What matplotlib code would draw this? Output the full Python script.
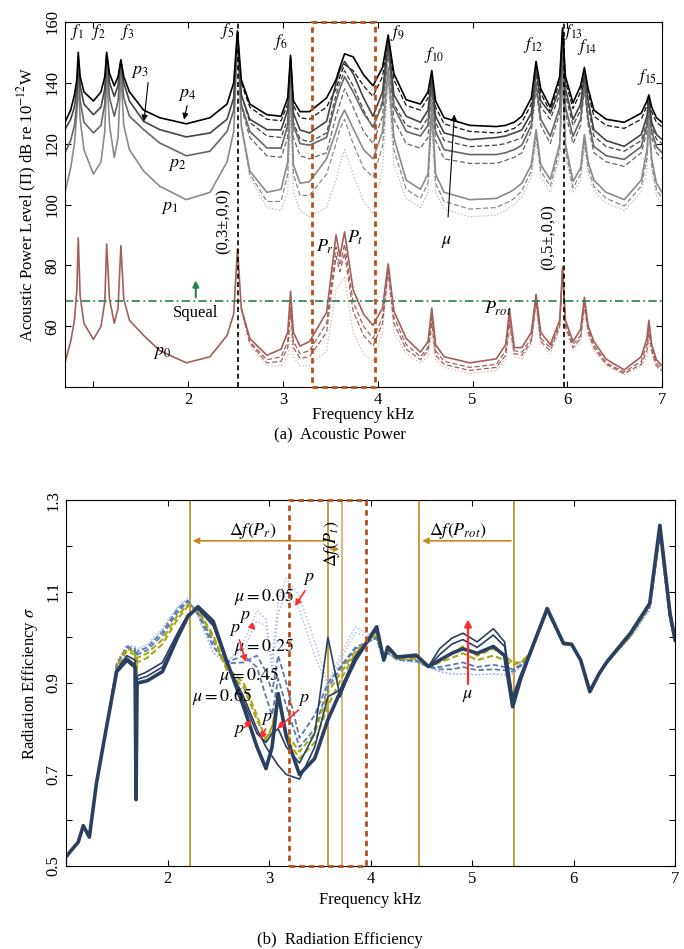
import matplotlib
matplotlib.use('Agg')
import matplotlib.pyplot as plt
from matplotlib.patches import Rectangle

plt.rcParams['font.family'] = 'serif'
plt.rcParams['font.serif'] = ['Liberation Serif', 'DejaVu Serif']
plt.rcParams['mathtext.fontset'] = 'stix'
plt.rcParams['font.size'] = 12

# ---------------- (a) acoustic power, dB ----------------
freq = [0.70, 0.76, 0.80, 0.825, 0.84, 0.86, 0.90, 1.00, 1.08, 1.12,
        1.14, 1.17, 1.22, 1.26, 1.29, 1.32, 1.38, 1.53, 1.70, 1.98,
        2.23, 2.41, 2.48, 2.52, 2.56, 2.65, 2.83, 2.98, 3.05, 3.08,
        3.11, 3.18, 3.28, 3.46, 3.56, 3.60, 3.65, 3.74, 3.85, 3.95,
        4.05, 4.11, 4.17, 4.30, 4.45, 4.53, 4.57, 4.61, 4.70, 4.97,
        5.25, 5.35, 5.39, 5.44, 5.52, 5.62, 5.67, 5.72, 5.82, 5.92,
        5.95, 5.98, 6.06, 6.14, 6.18, 6.22, 6.28, 6.41, 6.60, 6.78,
        6.84, 6.86, 6.89, 6.94, 7.00]
freq_hi = freq[24:]  # variants only separate above ~2.5 kHz

p0 = [48, 55, 62, 72, 89, 70, 61, 55.7, 60, 68,
      87, 69, 61, 66, 86.5, 69, 62, 57, 52, 48,
      50, 57, 64, 85.5, 66, 56, 50.5, 52.5, 58, 71.5,
      58, 53.5, 55, 64.6, 90, 83, 91, 72, 64, 60.3,
      66, 80.5, 65, 56, 51.5, 55, 66, 54, 50, 48,
      49.3, 54, 65.5, 53, 53, 58, 70.5, 58, 54, 62,
      79.5, 62, 55, 59, 69.5, 60, 55, 49.2, 45.7, 50,
      56, 62, 54, 49, 47]
p0_d1 = [66, 55, 49, 50, 55, 68, 55, 51, 52, 61,
         86, 80, 87, 68, 60, 56, 63, 79, 63, 54,
         50, 53, 63, 52, 48.5, 46.5, 47.5, 52, 63, 52,
         51.5, 56, 69, 56, 53, 61, 79, 61, 54, 57,
         68, 59, 54, 48, 45, 48.5, 54, 60, 53, 48, 46]
p0_d2 = [66, 54.5, 48, 48.5, 53, 65, 53, 49.5, 50, 58,
         83, 78, 84, 65, 57, 53.5, 61, 78, 61, 52.5,
         49, 52, 61, 50.5, 47.5, 45.5, 46.5, 50.5, 61, 51,
         50.5, 55, 68, 55, 52, 60, 78.5, 60, 53, 56,
         67, 58, 53, 47.5, 44.5, 47.5, 52, 58, 52, 47, 45.5]
p0_dot = [65, 54, 47, 47, 50, 60, 50, 47, 47, 52,
          72, 74, 76, 58, 51, 48.5, 58, 77, 58, 51,
          48, 50, 58, 49, 46.5, 44.5, 45.5, 49, 58, 50,
          49.5, 54, 67, 54, 51, 59, 78, 59, 52, 55,
          66, 57, 52, 47, 44, 47, 50, 56, 51, 46.5, 45]

p1 = [104, 112, 120, 130, 141, 128, 118, 110, 114, 124,
      143, 126, 115.5, 122, 143, 126, 118, 111, 106, 101.6,
      104, 114, 124, 154, 126, 111, 104, 105, 114, 140,
      113, 107, 107.5, 115, 124, 128, 131, 125, 118, 115,
      124, 145, 122, 108, 105, 110, 133, 110, 104, 101.6,
      102, 103.5, 104, 105, 107, 113, 124.6, 113, 108.2, 120,
      144, 120, 107.6, 112, 123, 114, 108, 104, 101.6, 108,
      118, 128, 115, 107, 104]
p1_d = [126, 110, 101, 101, 110, 136, 110, 103, 103, 110,
        120, 125, 128, 120, 112, 109, 119, 143, 118, 105,
        102, 107, 130, 107, 101, 98.5, 99, 100.5, 101, 102,
        104.5, 111, 123, 111, 106, 118, 143, 118, 105.5, 110,
        121, 112, 106, 102, 99.5, 106, 115, 126, 113, 105, 102]
p1_dot = [125, 109, 99, 98, 104, 128, 104, 98, 96, 99,
          108, 113, 118, 110, 101, 97, 112, 140, 113, 102,
          99, 104, 126, 104, 98.5, 96, 96.5, 98, 99, 100,
          102.5, 109, 121, 109, 104, 116, 142, 116, 104, 108,
          119, 110, 104.5, 100.5, 98, 104, 112, 124, 111, 103, 100]

p2 = [117, 121, 126, 133, 146, 134, 127, 123.5, 126, 133,
      148, 135, 129, 134, 147, 135, 129, 124.6, 120.2, 116,
      117.5, 124, 131, 156, 133, 124, 118.6, 118.5, 126, 146,
      126, 120, 119.5, 122, 134, 138, 142, 137, 130, 125.5,
      133, 152, 132, 124, 122.5, 126, 140, 124, 118, 116.4,
      116.4, 117, 117.5, 118, 119.5, 126, 140, 128, 122.4, 132,
      150, 132, 122.4, 128, 140, 128, 119.1, 116, 114.8, 119,
      126, 133, 124, 119, 117]
p2_d = [132, 122, 116, 115.5, 122, 143, 122, 116, 115, 117,
        129, 133, 138, 132, 124, 120, 129, 150, 128, 120,
        118.5, 122, 137, 121, 115, 113.5, 113.5, 114.5, 115, 115.5,
        117, 124, 138, 126, 120, 130, 149, 130, 120, 126,
        138, 126, 117, 114, 112.5, 117, 124, 131, 122, 117, 115]

p3 = [124.6, 128, 132, 138, 148, 139, 133, 129.5, 132, 138,
      149, 140, 135.5, 139, 147.5, 140, 134, 127.3, 124.6, 122.2,
      123.5, 128, 135, 156.5, 136, 128, 124.6, 124.5, 131, 148,
      130, 124.5, 123.5, 127.3, 140, 144, 147, 143, 135, 129,
      137, 154, 136, 129, 127, 131, 142, 129, 123.5, 121.3,
      122, 122.5, 123, 123.5, 124.5, 130, 144, 134, 130, 138,
      156, 138, 127.9, 133, 143, 134, 124.5, 121, 119.1, 123,
      129, 135, 127, 123, 121.3]
p3_d = [136, 127, 122.5, 122, 128, 146, 127, 121.5, 120.5, 123.5,
        136, 140, 144, 139, 131, 125, 134, 153, 133, 126,
        124.5, 128.5, 140, 127, 121, 119, 119.5, 120, 120.5, 121,
        122, 128, 143, 132, 128, 136, 155, 136, 126, 131,
        142, 132, 122.5, 119, 117.5, 121, 127, 134, 125.5, 121.5, 120]

p4 = [127, 131, 136, 141, 150, 142, 137, 134, 137, 142,
      150, 143, 139, 142, 147.5, 142, 137, 131, 128.5, 126.5,
      128.5, 133, 140, 157, 141, 133, 129.5, 129, 135, 149,
      134, 130.5, 130.5, 135, 141, 145, 149.5, 148.5, 142.6, 139,
      145, 155.7, 143, 134.4, 133, 137, 144, 134, 128.5, 126,
      125.6, 126, 126.5, 127, 129, 135, 147, 138, 132, 142,
      158, 142, 133.4, 139, 145, 138, 131, 128, 127, 130,
      134, 136, 132, 128.5, 127]
p4_d = [140, 132, 128, 127.5, 133, 148, 132.5, 128.5, 128, 132,
        138, 142, 146, 144, 139, 135.5, 142, 155, 141, 132.5,
        131, 135, 143, 132, 126.5, 124, 123.5, 124, 124.5, 125,
        127, 133, 146, 136.5, 130.5, 140.5, 157.5, 140.5, 131.5, 137,
        144, 136.5, 129, 126, 125, 128, 132.5, 135.5, 130.5, 127, 125.5]

squeal_level = 68.3
mode_lines = [2.53, 5.96]
peak_names = [r'$f_1$', r'$f_2$', r'$f_3$', r'$f_5$', r'$f_6$', r'$f_9$', r'$f_{10}$',
              r'$f_{12}$', r'$f_{13}$', r'$f_{14}$', r'$f_{15}$']
peak_x = [0.83, 1.05, 1.36, 2.41, 2.97, 4.20, 4.60, 5.64, 6.06, 6.21, 6.84]
peak_y = [156.7, 156.7, 156.7, 157, 153.4, 156.4, 149.2, 152.5, 156.7, 151.8, 142]

# ---------------- (b) radiation efficiency ----------------
fb = [1.00, 1.07, 1.12, 1.17, 1.23, 1.30, 1.40, 1.50, 1.60, 1.68,
      1.69, 1.70, 1.80, 1.95, 2.10, 2.20, 2.30, 2.45, 2.58, 2.75,
      2.88, 2.97, 3.03, 3.09, 3.17, 3.30, 3.45, 3.58, 3.70, 3.85,
      4.06, 4.13, 4.17, 4.26, 4.45, 4.57, 4.68, 4.80, 4.91, 5.05,
      5.21, 5.32, 5.40, 5.48, 5.57, 5.74, 5.90, 5.98, 6.07, 6.16,
      6.25, 6.33, 6.56, 6.75, 6.85, 6.95, 7.00]

sig_n0 = [0.520, 0.539, 0.552, 0.588, 0.563, 0.681, 0.805, 0.925, 0.950, 0.935,
          0.645, 0.900, 0.905, 0.925, 1.000, 1.045, 1.067, 1.035, 0.950, 0.848,
          0.761, 0.713, 0.760, 0.877, 0.783, 0.700, 0.735, 0.820, 0.880, 0.950,
          1.023, 0.950, 0.979, 0.957, 0.961, 0.936, 0.950, 0.965, 0.975, 0.965,
          0.980, 0.960, 0.848, 0.910, 0.965, 1.063, 0.987, 0.985, 0.950, 0.881,
          0.920, 0.947, 1.009, 1.074, 1.245, 1.052, 0.994]
sig_n1 = [0.520, 0.539, 0.552, 0.588, 0.563, 0.681, 0.805, 0.930, 0.960, 0.950,
          0.650, 0.915, 0.925, 0.945, 1.010, 1.050, 1.062, 1.025, 0.945, 0.870,
          0.800, 0.760, 0.740, 0.720, 0.700, 0.690, 0.760, 0.870, 0.885, 0.960,
          1.015, 0.950, 0.975, 0.955, 0.958, 0.936, 0.975, 0.998, 1.009, 0.990,
          1.019, 0.990, 0.870, 0.920, 0.965, 1.063, 0.987, 0.985, 0.950, 0.883,
          0.920, 0.947, 1.009, 1.074, 1.240, 1.050, 0.994]
sig_n2 = [0.520, 0.539, 0.552, 0.588, 0.563, 0.681, 0.805, 0.928, 0.955, 0.940,
          0.648, 0.908, 0.915, 0.935, 1.005, 1.048, 1.065, 1.030, 0.948, 0.860,
          0.790, 0.770, 0.790, 0.800, 0.760, 0.725, 0.790, 1.000, 0.870, 0.955,
          1.018, 0.950, 0.977, 0.956, 0.960, 0.936, 0.962, 0.985, 0.995, 0.978,
          1.005, 0.980, 0.860, 0.915, 0.965, 1.063, 0.987, 0.985, 0.950, 0.882,
          0.920, 0.947, 1.009, 1.074, 1.242, 1.050, 0.994]
sig_o1 = [0.520, 0.539, 0.552, 0.588, 0.563, 0.681, 0.805, 0.935, 0.970, 0.962,
          0.660, 0.945, 0.955, 0.985, 1.040, 1.068, 1.060, 1.005, 0.935, 0.900,
          0.830, 0.775, 0.800, 0.877, 0.780, 0.735, 0.770, 0.850, 0.905, 0.965,
          1.010, 0.950, 0.972, 0.955, 0.955, 0.935, 0.950, 0.965, 0.980, 0.960,
          0.975, 0.960, 0.945, 0.945, 0.965, 1.060, 0.985, 0.983, 0.950, 0.885,
          0.920, 0.945, 1.005, 1.070, 1.235, 1.045, 0.990]
sig_o2 = [0.520, 0.539, 0.552, 0.588, 0.563, 0.681, 0.805, 0.937, 0.975, 0.968,
          0.660, 0.955, 0.965, 0.995, 1.048, 1.072, 1.058, 1.000, 0.930, 0.890,
          0.820, 0.778, 0.805, 0.870, 0.790, 0.750, 0.790, 0.880, 0.920, 0.970,
          1.005, 0.950, 0.970, 0.953, 0.953, 0.935, 0.945, 0.955, 0.965, 0.950,
          0.960, 0.950, 0.940, 0.945, 0.962, 1.058, 0.985, 0.983, 0.950, 0.886,
          0.920, 0.945, 1.003, 1.068, 1.230, 1.045, 0.990]
sig_s1 = [0.520, 0.539, 0.552, 0.588, 0.563, 0.681, 0.805, 0.940, 0.978, 0.972,
          0.665, 0.962, 0.972, 1.005, 1.055, 1.078, 1.055, 0.990, 0.945, 0.960,
          0.935, 0.870, 0.830, 0.910, 0.850, 0.760, 0.800, 0.890, 0.930, 0.975,
          1.000, 0.950, 0.968, 0.952, 0.950, 0.935, 0.935, 0.940, 0.945, 0.935,
          0.940, 0.935, 0.930, 0.940, 0.960, 1.058, 0.985, 0.983, 0.950, 0.886,
          0.918, 0.945, 1.003, 1.066, 1.225, 1.040, 0.990]
sig_s2 = [0.520, 0.539, 0.552, 0.588, 0.563, 0.681, 0.805, 0.942, 0.980, 0.975,
          0.668, 0.968, 0.978, 1.012, 1.062, 1.080, 1.050, 0.980, 0.943, 0.945,
          0.960, 0.925, 0.880, 0.960, 0.900, 0.780, 0.830, 0.900, 0.935, 0.978,
          0.998, 0.950, 0.966, 0.951, 0.948, 0.935, 0.930, 0.930, 0.935, 0.928,
          0.930, 0.928, 0.925, 0.938, 0.960, 1.058, 0.985, 0.983, 0.950, 0.886,
          0.918, 0.945, 1.003, 1.066, 1.225, 1.040, 0.990]
sig_l1 = [0.520, 0.539, 0.552, 0.588, 0.563, 0.681, 0.805, 0.945, 0.983, 0.980,
          0.670, 0.975, 0.985, 1.020, 1.068, 1.085, 1.045, 0.965, 0.943, 0.990,
          1.058, 1.040, 0.950, 1.080, 1.129, 1.090, 0.990, 0.900, 0.960, 1.023,
          0.995, 0.950, 0.965, 0.950, 0.945, 0.935, 0.925, 0.920, 0.920, 0.918,
          0.920, 0.918, 0.920, 0.935, 0.958, 1.055, 0.983, 0.982, 0.950, 0.888,
          0.918, 0.943, 1.000, 1.060, 1.220, 1.035, 0.988]
sig_l2 = [0.520, 0.539, 0.552, 0.588, 0.563, 0.681, 0.805, 0.944, 0.982, 0.978,
          0.670, 0.972, 0.982, 1.016, 1.065, 1.083, 1.047, 0.968, 0.945, 0.975,
          1.035, 1.025, 0.930, 1.050, 1.100, 1.060, 0.960, 0.890, 0.950, 1.010,
          0.995, 0.950, 0.965, 0.950, 0.945, 0.935, 0.925, 0.920, 0.920, 0.918,
          0.920, 0.918, 0.920, 0.935, 0.958, 1.055, 0.983, 0.982, 0.950, 0.888,
          0.918, 0.943, 1.000, 1.060, 1.220, 1.035, 0.988]

band_lines = [2.22, 3.58, 3.72, 4.48, 5.41]

# colours
brown = '#a3605b'
brown_light = '#d6b0ad'
rect_col = '#b8501c'
gold = '#c08a1e'
navy = '#2b3f63'
olive = '#a8a814'
steel = '#5b7bb0'
lav = '#a9b3ef'
red = '#ff2a2a'
green = '#2e7d4f'

fig = plt.figure(figsize=(6.84, 9.49), dpi=100)

# =============== top panel ===============
ax1 = fig.add_axes([0.095, 0.592, 0.873, 0.385])

# dashed / dotted variants first so solids sit on top
ax1.plot(freq_hi, p1_dot, color='#b4b4b4', lw=0.9, ls=':')
ax1.plot(freq_hi, p1_d, color='#8a8a8a', lw=0.9, ls=(0, (4, 2)))
ax1.plot(freq_hi, p2_d, color='#666666', lw=0.9, ls=(0, (4, 2)))
ax1.plot(freq_hi, p3_d, color='#444444', lw=0.9, ls=(0, (4, 2)))
ax1.plot(freq_hi, p4_d, color='#111111', lw=0.9, ls=(0, (4, 2)))
ax1.plot(freq, p1, color='#8a8a8a', lw=1.2)
ax1.plot(freq, p2, color='#666666', lw=1.2)
ax1.plot(freq, p3, color='#444444', lw=1.2)
ax1.plot(freq, p4, color='black', lw=1.2)

ax1.plot(freq_hi, p0_dot, color=brown_light, lw=0.9, ls=':')
ax1.plot(freq_hi, p0_d2, color=brown, lw=0.9, ls=(0, (4, 2)))
ax1.plot(freq_hi, p0_d1, color=brown, lw=0.9, ls=(0, (4, 2)))
ax1.plot(freq, p0, color=brown, lw=1.2)

ax1.axhline(squeal_level, color=green, lw=1.2, ls=(0, (5, 2, 1, 2)))
for xm in mode_lines:
    ax1.axvline(xm, color='black', lw=1.2, ls=(0, (3, 2)))
ax1.add_patch(Rectangle((3.31, 40), 0.66, 120, fill=False, ec=rect_col,
                        lw=2, ls=(0, (2, 1.5)), clip_on=False, zorder=5))

for name, x, y in zip(peak_names, peak_x, peak_y):
    ax1.text(x, y, name, ha='center', va='center', fontsize=12)

ax1.text(1.49, 143.6, r'$p_3$', ha='center', va='center', fontsize=13)
ax1.annotate('', xy=(1.53, 126.4), xytext=(1.58, 141),
             arrowprops=dict(arrowstyle='-|>', color='black', lw=0.8, mutation_scale=9))
ax1.text(1.99, 136, r'$p_4$', ha='center', va='center', fontsize=13)
ax1.annotate('', xy=(1.95, 127), xytext=(1.995, 133.4),
             arrowprops=dict(arrowstyle='-|>', color='black', lw=0.8, mutation_scale=9))
ax1.text(1.88, 113, r'$p_2$', ha='center', va='center', fontsize=13)
ax1.text(1.81, 99, r'$p_1$', ha='center', va='center', fontsize=13)
ax1.text(1.73, 51.5, r'$p_0$', ha='center', va='center', fontsize=13)
ax1.text(3.44, 86.2, r'$P_r$', ha='center', va='center', fontsize=13)
ax1.text(3.76, 89.2, r'$P_t$', ha='center', va='center', fontsize=13)
ax1.text(5.27, 65.6, r'$P_{rot}$', ha='center', va='center', fontsize=13)
ax1.text(4.73, 88, r'$\mu$', ha='center', va='center', fontsize=13)
ax1.annotate('', xy=(4.81, 130.5), xytext=(4.74, 95),
             arrowprops=dict(arrowstyle='-|>', color='black', lw=0.8, mutation_scale=9))
ax1.text(2.08, 64.4, 'Squeal', ha='center', va='center', fontsize=12)
ax1.annotate('', xy=(2.08, 76), xytext=(2.08, 68.6),
             arrowprops=dict(arrowstyle='-|>', color=green, lw=1.5, mutation_scale=9))
ax1.text(2.37, 94.4, '(0,3±,0,0)', rotation=90, ha='center', va='center', fontsize=12)
ax1.text(5.80, 89.2, '(0,5±,0,0)', rotation=90, ha='center', va='center', fontsize=12)

ax1.set_xlim(0.7, 7)
ax1.set_ylim(40, 160)
ax1.set_xticks([1, 2, 3, 4, 5, 6, 7])
ax1.set_xticklabels(['', '2', '3', '4', '5', '6', '7'])
ax1.set_yticks([60, 80, 100, 120, 140, 160])
ax1.tick_params(direction='in', top=True, right=True, length=4, labelsize=12)
ax1.tick_params(axis='y', labelrotation=90)
for lbl in ax1.get_yticklabels():
    lbl.set_va('center')
ax1.set_xlabel('Frequency kHz', fontsize=12, labelpad=-1)
ax1.set_ylabel(r'Acoustic Power Level (Π) dB re 10$^{-12}$W', fontsize=12, labelpad=4)
fig.text(0.497, 1 - 435 / 949, '(a)  Acoustic Power', ha='center', va='center', fontsize=12)

# =============== bottom panel ===============
ax2 = fig.add_axes([0.0965, 0.0875, 0.8905, 0.3855])

for xb in band_lines:
    c = '#d2ac6a' if xb == 3.72 else gold
    ax2.axvline(xb, color=c, lw=1.2, zorder=1)

ax2.plot(fb, sig_l2, color=lav, lw=1.0, ls=':')
ax2.plot(fb, sig_l1, color=lav, lw=1.0, ls=':')
ax2.plot(fb, sig_s2, color=steel, lw=1.3, ls=(0, (3, 1.5)))
ax2.plot(fb, sig_s1, color=steel, lw=1.3, ls=(0, (3, 1.5)))
ax2.plot(fb, sig_o2, color=olive, lw=1.5, ls=(0, (3, 1.5)))
ax2.plot(fb, sig_o1, color=olive, lw=1.5, ls=(0, (3, 1.5)))
ax2.plot(fb, sig_n2, color=navy, lw=1.2)
ax2.plot(fb, sig_n1, color=navy, lw=1.2)
ax2.plot(fb, sig_n0, color=navy, lw=2.6)

ax2.add_patch(Rectangle((3.20, 0.5), 0.76, 0.8, fill=False, ec=rect_col,
                        lw=2, ls=(0, (2, 1.5)), clip_on=False, zorder=5))

ax2.annotate('', xy=(2.22, 1.211), xytext=(3.58, 1.211),
             arrowprops=dict(arrowstyle='-|>', color=gold, lw=1.2, mutation_scale=9))
ax2.text(2.84, 1.232, r'$\Delta f(P_r)$', ha='center', va='center', fontsize=13)
ax2.annotate('', xy=(3.72, 1.193), xytext=(3.58, 1.193),
             arrowprops=dict(arrowstyle='-|>', color=gold, lw=1.2, mutation_scale=7))
ax2.text(3.625, 1.205, r'$\Delta f(P_t)$', rotation=90, ha='center', va='center', fontsize=13)
ax2.annotate('', xy=(4.48, 1.211), xytext=(5.41, 1.211),
             arrowprops=dict(arrowstyle='-|>', color=gold, lw=1.2, mutation_scale=9))
ax2.text(4.86, 1.232, r'$\Delta f(P_{rot})$', ha='center', va='center', fontsize=13)

ax2.text(2.95, 1.090, r'$\mu = 0.05$', ha='center', va='center', fontsize=13)
ax2.text(2.95, 0.979, r'$\mu = 0.25$', ha='center', va='center', fontsize=13)
ax2.text(2.80, 0.917, r'$\mu = 0.45$', ha='center', va='center', fontsize=13)
ax2.text(2.54, 0.870, r'$\mu = 0.65$', ha='center', va='center', fontsize=13)

red_arrows = dict(arrowstyle='-|>', color=red, lw=1.2, mutation_scale=9)
ax2.text(3.39, 1.129, r'$p$', ha='center', va='center', fontsize=13)
ax2.annotate('', xy=(3.24, 1.063), xytext=(3.37, 1.107), arrowprops=red_arrows)
ax2.text(2.76, 1.046, r'$p$', ha='center', va='center', fontsize=13)
ax2.annotate('', xy=(2.89, 1.012), xytext=(2.80, 1.030), arrowprops=red_arrows)
ax2.text(2.66, 1.016, r'$p$', ha='center', va='center', fontsize=13)
ax2.annotate('', xy=(2.78, 0.940), xytext=(2.70, 1.000), arrowprops=red_arrows)
ax2.text(2.70, 0.797, r'$p$', ha='center', va='center', fontsize=13)
ax2.annotate('', xy=(2.85, 0.823), xytext=(2.74, 0.799), arrowprops=red_arrows)
ax2.text(2.98, 0.823, r'$p$', ha='center', va='center', fontsize=13)
ax2.annotate('', xy=(2.90, 0.772), xytext=(2.98, 0.805), arrowprops=red_arrows)
ax2.text(3.34, 0.863, r'$p$', ha='center', va='center', fontsize=13)
ax2.annotate('', xy=(3.06, 0.796), xytext=(3.31, 0.845), arrowprops=red_arrows)
ax2.annotate('', xy=(4.96, 1.045), xytext=(4.96, 0.892),
             arrowprops=dict(arrowstyle='-|>', color=red, lw=1.6, mutation_scale=10))
ax2.text(4.96, 0.872, r'$\mu$', ha='center', va='center', fontsize=13)

ax2.set_xlim(1, 7)
ax2.set_ylim(0.5, 1.3)
ax2.set_xticks([1, 2, 3, 4, 5, 6, 7])
ax2.set_xticklabels(['', '2', '3', '4', '5', '6', '7'])
ax2.set_yticks([0.5, 0.6, 0.7, 0.8, 0.9, 1.0, 1.1, 1.2, 1.3])
ax2.set_yticklabels(['0.5', '', '0.7', '', '0.9', '', '1.1', '', '1.3'])
ax2.tick_params(direction='in', top=True, right=True, length=4, labelsize=12)
ax2.tick_params(axis='y', labelrotation=90)
for lbl in ax2.get_yticklabels():
    lbl.set_va('center')
ax2.set_xlabel('Frequency kHz', fontsize=12, labelpad=4)
ax2.set_ylabel(r'Radiation Efficiency $\sigma$', fontsize=12, labelpad=4)
fig.text(0.497, 1 - 940 / 949, '(b)  Radiation Efficiency', ha='center', va='center', fontsize=12)

fig.savefig('out.png', dpi=100)
